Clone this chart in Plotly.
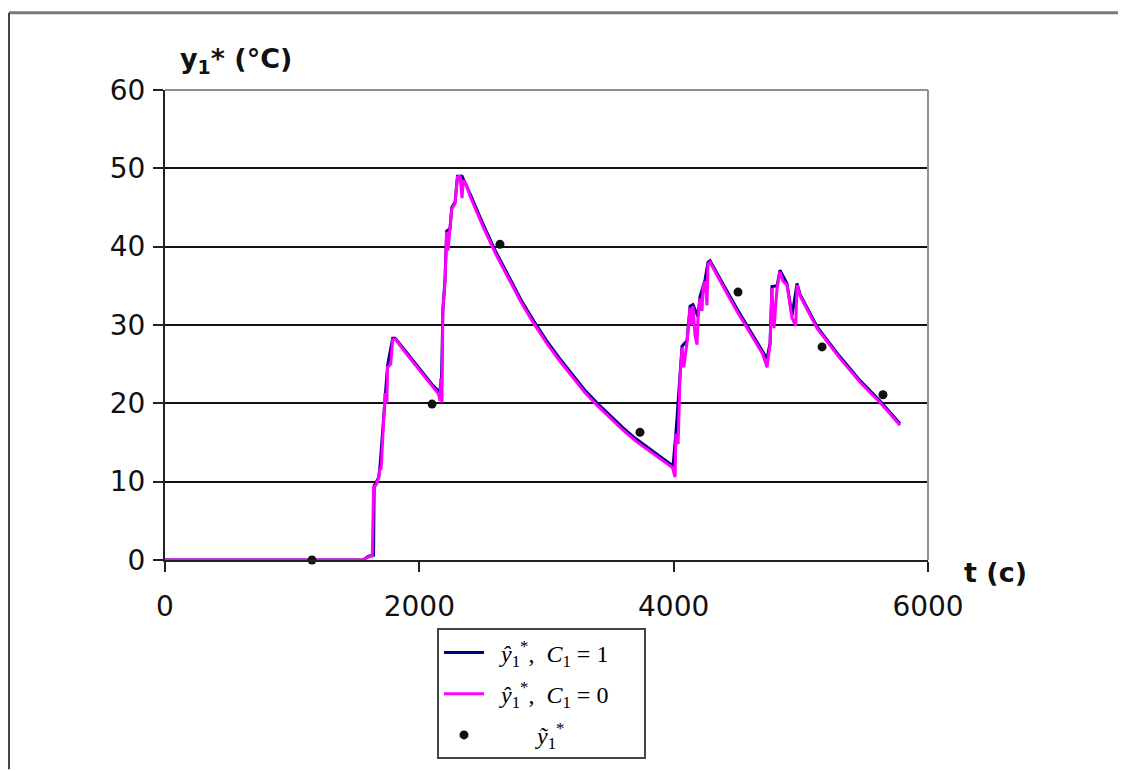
import plotly.graph_objects as go

# ---- data ----
t_c1 = [0, 1560, 1600, 1640, 1645, 1680, 1690, 1712, 1730, 1750, 1790, 1810, 1900, 2000, 2100, 2160,
        2175, 2185, 2202, 2215, 2241, 2255, 2281, 2300, 2336, 2400, 2500, 2600, 2700, 2800, 2900,
        3000, 3100, 3200, 3300, 3400, 3500, 3600, 3700, 3800, 3900, 3995, 4018, 4050, 4066, 4105,
        4129, 4152, 4191, 4207, 4231, 4247, 4270, 4286, 4400, 4500, 4600, 4700, 4734, 4758, 4773,
        4813, 4836, 4891, 4931, 4970, 4994, 5127, 5300, 5466, 5623, 5780]
y_c1 = [0, 0, 0.5, 0.6, 9.5, 10.5, 11.8, 16.8, 21.6, 24.8, 28.3, 28.3, 26.5, 24.5, 22.4, 21.4,
        23.4, 31.9, 35.8, 42.0, 42.3, 45.0, 45.7, 49.0, 49.0, 46.7, 42.9, 39.4, 36.2, 33.2, 30.5,
        28.0, 25.8, 23.7, 21.7, 20.0, 18.4, 16.9, 15.5, 14.3, 13.1, 12.0, 16.3, 23.5, 27.3, 28.0,
        32.4, 32.6, 31.1, 33.6, 34.9, 35.8, 38.0, 38.2, 34.9, 32.0, 29.3, 26.6, 25.7, 27.7, 34.9,
        35.0, 37.0, 35.3, 31.2, 35.3, 33.9, 29.8, 26.1, 22.9, 20.3, 17.4]

t_c0 = [0, 1560, 1600, 1630, 1640, 1660, 1680, 1690, 1700, 1712, 1725, 1730, 1745, 1750, 1775,
        1790, 1810, 1900, 2000, 2100, 2150, 2163, 2170, 2178, 2185, 2202, 2215, 2225, 2241, 2255,
        2281, 2300, 2320, 2336, 2345, 2367, 2400, 2500, 2600, 2700, 2800, 2900, 3000, 3100, 3200,
        3300, 3400, 3500, 3600, 3700, 3800, 3900, 3990, 4011, 4018, 4035, 4050, 4066, 4080, 4105,
        4129, 4144, 4152, 4168, 4184, 4191, 4207, 4223, 4231, 4247, 4262, 4270, 4286, 4400, 4500,
        4600, 4700, 4734, 4758, 4773, 4789, 4813, 4836, 4860, 4891, 4931, 4960, 4970, 4994, 5127,
        5300, 5466, 5623, 5780]
y_c0 = [0, 0, 0.4, 0.5, 9.3, 9.6, 10.5, 11.6, 11.7, 16.6, 19.5, 21.3, 20.0, 24.6, 25.0,
        28.1, 28.2, 26.3, 24.3, 22.2, 21.2, 20.3, 23.2, 20.1, 31.8, 35.6, 41.9, 39.5, 42.0, 44.8,
        45.5, 48.9, 49.0, 46.2, 48.5, 48.0, 46.4, 42.6, 39.1, 35.9, 32.9, 30.2, 27.7, 25.5, 23.4,
        21.4, 19.7, 18.1, 16.6, 15.2, 14.0, 12.8, 11.8, 10.6, 16.1, 14.8, 23.3, 27.1, 24.6, 27.8,
        32.2, 30.0, 32.4, 28.7, 27.5, 30.9, 33.4, 31.8, 34.7, 35.6, 32.5, 37.8, 38.0, 34.6, 31.7,
        29.0, 26.3, 24.6, 27.5, 34.7, 29.6, 34.7, 36.8, 35.6, 35.1, 30.9, 29.9, 35.1, 33.7, 29.6,
        25.9, 22.7, 20.1, 17.2]

t_meas = [1156, 2100, 2634, 3735, 4506, 5167, 5646]
y_meas = [0.0, 19.9, 40.3, 16.3, 34.2, 27.2, 21.1]

x_ticks = [0, 2000, 4000, 6000]
y_ticks = [0, 10, 20, 30, 40, 50, 60]

name_c1 = "  <i>ŷ</i><sub>1</sub><sup>*</sup>,  <i>C</i><sub>1</sub> = 1     "
name_c0 = "  <i>ŷ</i><sub>1</sub><sup>*</sup>,  <i>C</i><sub>1</sub> = 0     "
name_meas = "        <i>ỹ</i><sub>1</sub><sup>*</sup>"

fig = go.Figure()
fig.add_trace(go.Scatter(x=t_c1, y=y_c1, mode="lines", name=name_c1,
                         line=dict(color="#000080", width=3), legendgroup="a"))
fig.add_trace(go.Scatter(x=t_c0, y=y_c0, mode="lines", name=name_c0,
                         line=dict(color="#FF00FF", width=3), legendgroup="b"))
fig.add_trace(go.Scatter(x=t_meas, y=y_meas, mode="markers", name=name_meas,
                         marker=dict(color="#111", size=9, symbol="circle"),
                         cliponaxis=False, legendgroup="c"))

# the page body has an 8px margin, so the figure is 8px smaller and shifted
fig.update_layout(
    width=1118, height=763,
    margin=dict(l=157, r=198, t=82, b=207),
    paper_bgcolor="white", plot_bgcolor="white",
    font=dict(family="DejaVu Sans", size=28, color="black"),
    showlegend=True,
    legend=dict(x=(437 - 165) / 763, y=(564 - 633) / 474, xanchor="left", yanchor="top",
                bgcolor="white", bordercolor="#444444", borderwidth=2,
                font=dict(family="Liberation Serif", size=24, color="black"),
                tracegroupgap=7, itemwidth=40),
    xaxis=dict(range=[0, 6000], tickvals=x_ticks, ticks="outside", ticklen=10,
               tickwidth=2, tickcolor="#222", showline=True, linecolor="#222",
               linewidth=2, showgrid=False, zeroline=False, ticklabelstandoff=10,
               tickfont=dict(family="DejaVu Sans", size=28, color="#111")),
    yaxis=dict(range=[0, 60], tickvals=y_ticks, ticks="outside", ticklen=10,
               tickwidth=2, tickcolor="#222", showline=True, linecolor="#222",
               linewidth=2, showgrid=True, gridcolor="#111", gridwidth=1.5,
               zeroline=False, ticklabelstandoff=2,
               tickfont=dict(family="DejaVu Sans", size=28, color="#111")),
    annotations=[
        dict(text="<b>y<sub>1</sub>* (°C)</b>", xref="paper", yref="paper",
             x=(178 - 165) / 763, y=(564 - 60) / 474, xanchor="left", yanchor="middle",
             showarrow=False, font=dict(family="DejaVu Sans", size=27, color="#111")),
        dict(text="<b>t (c)</b>", xref="paper", yref="paper",
             x=(962 - 165) / 763, y=(564 - 577) / 474, xanchor="left", yanchor="middle",
             showarrow=False, font=dict(family="DejaVu Sans", size=27, color="#111")),
    ],
    shapes=[
        # plot area border (top, right) in gray
        dict(type="line", xref="paper", yref="paper", x0=0, x1=1, y0=1, y1=1,
             line=dict(color="#909090", width=2)),
        dict(type="line", xref="paper", yref="paper", x0=1, x1=1, y0=0, y1=1,
             line=dict(color="#909090", width=2)),
        # outer frame (top and left)
        dict(type="line", xref="paper", yref="paper",
             x0=(9 - 165) / 763, x1=(1126 - 165) / 763,
             y0=(564 - 12) / 474, y1=(564 - 12) / 474,
             line=dict(color="#7a7a7a", width=3)),
        dict(type="line", xref="paper", yref="paper",
             x0=(9 - 165) / 763, x1=(9 - 165) / 763,
             y0=(564 - 12) / 474, y1=(564 - 775) / 474,
             line=dict(color="#444444", width=2)),
    ],
)

fig.write_html("out.html")
